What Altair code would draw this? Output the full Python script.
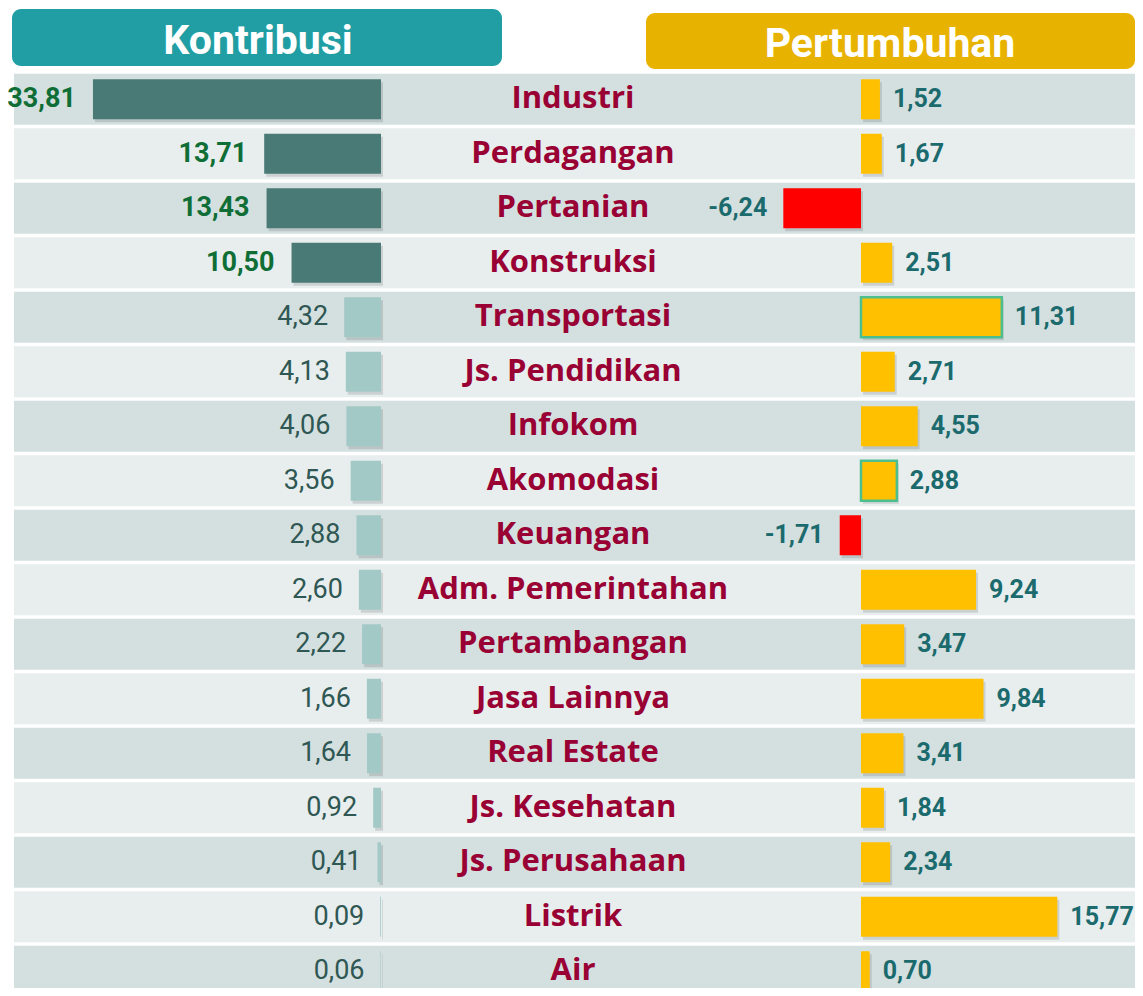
import altair as alt
import pandas as pd

sectors = ["Industri", "Perdagangan", "Pertanian", "Konstruksi", "Transportasi",
           "Js. Pendidikan", "Infokom", "Akomodasi", "Keuangan", "Adm. Pemerintahan",
           "Pertambangan", "Jasa Lainnya", "Real Estate", "Js. Kesehatan",
           "Js. Perusahaan", "Listrik", "Air"]
kontribusi = [33.81, 13.71, 13.43, 10.50, 4.32, 4.13, 4.06, 3.56, 2.88, 2.60,
              2.22, 1.66, 1.64, 0.92, 0.41, 0.09, 0.06]
pertumbuhan = [1.52, 1.67, -6.24, 2.51, 11.31, 2.71, 4.55, 2.88, -1.71, 9.24,
               3.47, 9.84, 3.41, 1.84, 2.34, 15.77, 0.70]
highlighted = ["Industri", "Perdagangan", "Pertanian", "Konstruksi"]
outlined = ["Transportasi", "Akomodasi"]
header_left = "Kontribusi"
header_right = "Pertumbuhan"

df = pd.DataFrame({"sector": sectors, "kontribusi": kontribusi, "pertumbuhan": pertumbuhan})
df["row"] = list(range(len(df)))
df["big"] = df["sector"].isin(highlighted)
df["outline"] = df["sector"].isin(outlined)
df["k_label"] = df["kontribusi"].map(lambda v: f"{v:.2f}".replace(".", ","))
df["p_label"] = df["pertumbuhan"].map(lambda v: f"{v:.2f}".replace(".", ","))

W, H = 1127, 980
ROW_TOP = 64
STEP = 54.5
NUM_FONT = "Roboto, sans-serif"
CAT_FONT = "Open Sans, sans-serif"
HDR_FONT = "Roboto, sans-serif"

Y = alt.Y("sector:N",
          scale=alt.Scale(domain=sectors, range=[ROW_TOP, ROW_TOP + STEP * len(sectors)],
                          paddingInner=0, paddingOuter=0),
          axis=None, sort=sectors)

LX = alt.Scale(domain=[0, 40], range=[373, 373 - 40 * 8.52], nice=False, zero=True)
RX = alt.Scale(domain=[-10, 20], range=[853 - 124.5, 853 + 249], nice=False)

base = alt.Chart(df)

bg = base.mark_bar(size=51).encode(
    x=alt.value(6), x2=alt.value(W), y=Y,
    color=alt.condition("datum.row % 2 == 0", alt.value("#d4e0e0"), alt.value("#e8eeee")),
)

left_shadow = base.mark_bar(size=40, xOffset=2, yOffset=3, color="#000000", opacity=0.12).encode(
    x=alt.X("kontribusi:Q", scale=LX, axis=None), y=Y)
left_bar = base.mark_bar(size=40).encode(
    x=alt.X("kontribusi:Q", scale=LX, axis=None), y=Y,
    color=alt.condition("datum.big", alt.value("#4a7a76"), alt.value("#a3c9c6")),
)
left_lbl_big = base.transform_filter("datum.big").mark_text(
    align="right", baseline="middle", dx=-17, font=NUM_FONT, fontSize=27,
    fontWeight="bold", color="#0f6e36").encode(
    x=alt.X("kontribusi:Q", scale=LX, axis=None), y=Y, text="k_label:N")
left_lbl_small = base.transform_filter("!datum.big").mark_text(
    align="right", baseline="middle", dx=-16, font=NUM_FONT, fontSize=27,
    color="#2f5753").encode(
    x=alt.X("kontribusi:Q", scale=LX, axis=None), y=Y, text="k_label:N")

cat = base.mark_text(align="center", baseline="middle", font=CAT_FONT, fontSize=31,
                     fontWeight="bold", color="#990033").encode(
    x=alt.value(565), y=Y, text="sector:N")

right_shadow = base.mark_bar(size=40, xOffset=2, yOffset=3, color="#000000", opacity=0.12).encode(
    x=alt.X("pertumbuhan:Q", scale=RX, axis=None), y=Y)
right_bar = base.mark_bar(size=40).encode(
    x=alt.X("pertumbuhan:Q", scale=RX, axis=None), y=Y,
    color=alt.condition("datum.pertumbuhan < 0", alt.value("#ff0000"), alt.value("#ffc000")),
    stroke=alt.condition("datum.outline", alt.value("#4dbf8e"), alt.value("transparent")),
    strokeWidth=alt.condition("datum.outline", alt.value(2.5), alt.value(0)),
)
right_lbl_pos = base.transform_filter("datum.pertumbuhan >= 0").mark_text(
    align="left", baseline="middle", dx=13, font=NUM_FONT, fontSize=25,
    fontWeight="bold", color="#1b6a6d").encode(
    x=alt.X("pertumbuhan:Q", scale=RX, axis=None), y=Y, text="p_label:N")
right_lbl_neg = base.transform_filter("datum.pertumbuhan < 0").mark_text(
    align="right", baseline="middle", dx=-16, font=NUM_FONT, fontSize=25,
    fontWeight="bold", color="#1b6a6d").encode(
    x=alt.X("pertumbuhan:Q", scale=RX, axis=None), y=Y, text="p_label:N")

hdr_df = pd.DataFrame({"t": [0]})
hdr_l_rect = alt.Chart(hdr_df).mark_rect(cornerRadius=9, color="#219ea3").encode(
    x=alt.value(4), x2=alt.value(494), y=alt.value(1), y2=alt.value(58))
hdr_r_rect = alt.Chart(hdr_df).mark_rect(cornerRadius=9, color="#e8b300").encode(
    x=alt.value(638), x2=alt.value(W), y=alt.value(5), y2=alt.value(61))
hdr_l_txt = alt.Chart(hdr_df).mark_text(align="center", baseline="middle", font=HDR_FONT,
                                        fontSize=41, fontWeight="bold", color="white").encode(
    x=alt.value(250), y=alt.value(34), text=alt.value(header_left))
hdr_r_txt = alt.Chart(hdr_df).mark_text(align="center", baseline="middle", font=HDR_FONT,
                                        fontSize=41, fontWeight="bold", color="white").encode(
    x=alt.value(882), y=alt.value(37), text=alt.value(header_right))

chart = alt.layer(
    bg, left_shadow, left_bar, left_lbl_big, left_lbl_small, cat,
    right_shadow, right_bar, right_lbl_pos, right_lbl_neg,
    hdr_l_rect, hdr_r_rect, hdr_l_txt, hdr_r_txt,
).resolve_scale(x="independent").properties(
    width=W, height=H, autosize=alt.AutoSizeParams(type="none"), padding=0,
    background="white",
).configure_view(stroke="transparent", strokeWidth=0)

chart.save("out.html", embed_options={"renderer": "svg", "actions": False})
